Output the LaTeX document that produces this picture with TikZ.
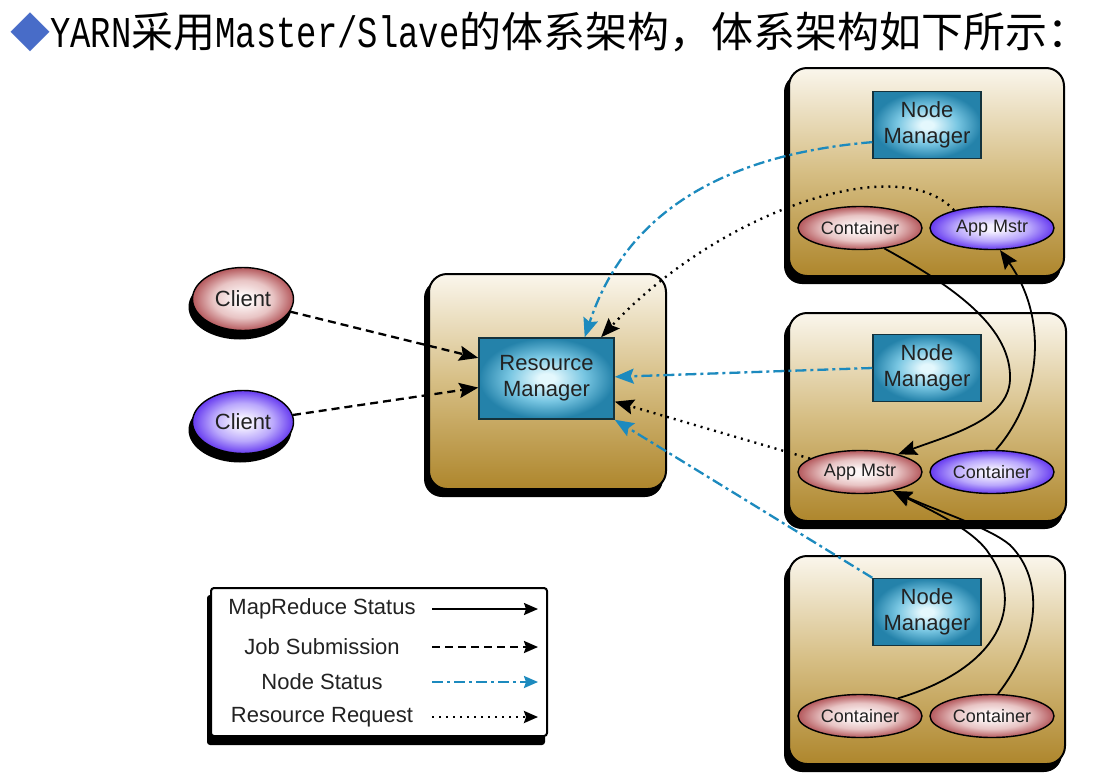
\documentclass[tikz,border=0pt]{standalone}
\usepackage{fontspec}
\setmainfont{Liberation Sans}
\newfontfamily\cjkfont{Noto Sans CJK SC}
\newfontfamily\titlelatin[FakeStretch=0.77]{Liberation Mono}
\usetikzlibrary{arrows.meta,shapes.geometric,calc}
\pgfdeclarelayer{bg}
\pgfsetlayers{bg,main}
\definecolor{boxtop}{RGB}{250,246,236}
\definecolor{boxmid}{RGB}{214,190,132}
\definecolor{boxbot}{RGB}{174,134,44}
\definecolor{nsblue}{RGB}{28,138,190}
\definecolor{diamondblue}{RGB}{72,108,200}
\definecolor{textc}{RGB}{34,34,34}
\definecolor{redin}{RGB}{253,246,246}
\definecolor{redmid}{RGB}{232,196,196}
\definecolor{redout}{RGB}{180,88,92}
\definecolor{bluein}{RGB}{244,240,255}
\definecolor{bluemid}{RGB}{186,168,252}
\definecolor{blueout}{RGB}{102,58,240}
\definecolor{nmin}{RGB}{228,248,253}
\definecolor{nmmid}{RGB}{120,198,226}
\definecolor{nmout}{RGB}{36,130,170}
\definecolor{nmline}{RGB}{20,50,60}
\pgfdeclareradialshading{redshade}{\pgfpoint{0bp}{0bp}}{color(0bp)=(redin); color(4bp)=(redin); color(15bp)=(redmid); color(25bp)=(redout); color(50bp)=(redout)}
\pgfdeclareradialshading{blueshade}{\pgfpoint{0bp}{0bp}}{color(0bp)=(bluein); color(4bp)=(bluein); color(15bp)=(bluemid); color(25bp)=(blueout); color(50bp)=(blueout)}
\pgfdeclareradialshading{nmshade}{\pgfpoint{0bp}{0bp}}{color(0bp)=(nmin); color(3bp)=(nmin); color(14bp)=(nmmid); color(25bp)=(nmout); color(50bp)=(nmout)}
\begin{document}
\begin{tikzpicture}[x=1pt,y=1pt,
  host/.style={draw=black, line width=2pt, rounded corners=18pt, top color=boxtop, bottom color=boxbot, middle color=boxmid, minimum width=275pt, minimum height=208pt, inner sep=0pt},
  mgr/.style={draw=nmline, line width=1.5pt, shading=nmshade, minimum width=108pt, minimum height=67pt, inner sep=0pt, align=center, font=\fontsize{22}{26}\selectfont, text=textc},
  redell/.style={ellipse, draw=black, line width=1.4pt, shading=redshade, minimum width=124pt, minimum height=43pt, inner sep=0pt, font=\fontsize{18}{20}\selectfont, text=textc},
  blueell/.style={redell, shading=blueshade},
  clientred/.style={redell, minimum width=101pt, minimum height=63pt, font=\fontsize{22}{24}\selectfont},
  clientblue/.style={clientred, shading=blueshade},
  legendbox/.style={draw=black, line width=2pt, fill=white, rounded corners=3pt, minimum width=336pt, minimum height=148pt, inner sep=0pt},
  legtext/.style={font=\fontsize{22}{24}\selectfont, text=textc, inner sep=0pt},
  tipbig/.style={-{Stealth[length=19pt,width=15pt,inset=3pt]}},
  tipsmall/.style={-{Stealth[length=14pt,width=12pt,inset=2pt]}},
  mrstat/.style={draw=black, line width=1.8pt},
  jobsub/.style={draw=black, line width=2.3pt, dash pattern=on 8pt off 5pt},
  nodestat/.style={draw=nsblue, line width=2.3pt, dash pattern=on 11pt off 4pt on 3pt off 4pt},
  resreq/.style={draw=black, line width=2.4pt, dash pattern=on 2pt off 5pt},
  shadowfill/.style={fill=black}
]
\begin{pgfonlayer}{bg}
\fill[white] (0,0) rectangle (1093,-782);
\end{pgfonlayer}
\useasboundingbox (0,0) rectangle (1093,-782);

% title
\node[anchor=west, inner sep=0pt, text=black] (title) at (10,-32)
  {\cjkfont\fontsize{42}{42}\selectfont{\fontsize{40}{40}\selectfont\textcolor{diamondblue}{◆}}{\titlelatin\fontsize{44}{44}\selectfont YARN}采用{\titlelatin\fontsize{44}{44}\selectfont Master/Slave}的体系架构，体系架构如下所示：};

% host boxes
\node[host] (h1) at (926.5,-172) {};
\node[host, minimum width=277pt] (h2) at (927.5,-417) {};
\node[host, minimum width=276pt] (h3) at (927,-660) {};
\node[host, minimum width=237pt, minimum height=215pt] (hrm) at (547.5,-381.5) {};

% managers
\node[mgr] (nm1) at (927,-125) {Node\\Manager};
\node[mgr] (nm2) at (927,-368) {Node\\Manager};
\node[mgr] (nm3) at (927,-612) {Node\\Manager};
\node[mgr, minimum width=135pt, minimum height=81pt] (rm) at (546.5,-378.5) {Resource\\Manager};

% ellipses
\node[redell] (c1) at (860,-228) {Container};
\node[blueell] (am1) at (992,-228) {App Mstr};
\node[redell] (am2) at (860,-472) {App Mstr};
\node[blueell] (c2) at (992,-472) {Container};
\node[redell] (c3a) at (860,-716) {Container};
\node[redell] (c3b) at (992,-716) {Container};
\node[clientred] (cr) at (243,-299) {Client};
\node[clientblue] (cb) at (243,-422) {Client};

% legend
\node[legendbox] (leg) at (379,-662) {};
\node[legtext] (t1) at (322,-609) {MapReduce Status};
\node[legtext] (t2) at (322,-647) {Job Submission};
\node[legtext] (t3) at (322,-682) {Node Status};
\node[legtext] (t4) at (322,-717) {Resource Request};
\coordinate (a1s) at (432,-609); \coordinate (a1e) at (538,-609);
\coordinate (a2s) at (432,-647); \coordinate (a2e) at (538,-647);
\coordinate (a3s) at (432,-682); \coordinate (a3e) at (538,-682);
\coordinate (a4s) at (432,-717); \coordinate (a4e) at (538,-717);
\draw[mrstat, tipsmall] (a1s) -- (a1e);
\draw[jobsub, tipsmall] (a2s) -- (a2e);
\draw[nodestat, tipsmall] (a3s) -- (a3e);
\draw[resreq, tipsmall] (a4s) -- (a4e);

% shadows
\begin{pgfonlayer}{bg}
\foreach \n in {h1,h2,h3,hrm}
  \fill[shadowfill, rounded corners=18pt] ([shift={(-4,-7)}]\n.north west) rectangle ([shift={(-4,-7)}]\n.south east);
\fill[shadowfill, rounded corners=3pt] ([shift={(-3,-8)}]leg.north west) rectangle ([shift={(-3,-8)}]leg.south east);
\fill[shadowfill] ([shift={(-3,-8)}]cr.center) ellipse [x radius=51.5, y radius=32.5];
\fill[shadowfill] ([shift={(-3,-8)}]cb.center) ellipse [x radius=51.5, y radius=32.5];
\end{pgfonlayer}

% job submission
\draw[jobsub, tipbig] (cr.-15) -- ($(rm.north west)!0.25!(rm.south west)$);
\draw[jobsub, tipbig] (cb.8) -- ($(rm.north west)!0.61!(rm.south west)$);

% node status
\draw[nodestat, tipbig] ($(nm1.north west)!0.75!(nm1.south west)$) .. controls (720,-155) and (625,-215) .. ($(rm.north west)!0.78!(rm.north east)$);
\draw[nodestat, tipbig] (nm2.west) -- ($(rm.north east)!0.48!(rm.south east)$);
\draw[nodestat, tipbig] (nm3.north west) -- (rm.south east);

% resource request
\draw[resreq, tipbig] (am1.155) .. controls (900,-150) and (720,-210) .. ($(rm.north west)!0.9!(rm.north east)$);
\draw[resreq, tipbig] (am2.165) -- ($(rm.north east)!0.78!(rm.south east)$);

% mapreduce status
\draw[mrstat, tipbig] (c1.-40) .. controls (960,-290) and (1012,-330) .. (1010,-380) .. controls (1008,-420) and (950,-435) .. (am2.25);
\draw[mrstat, tipbig] (c2.80) .. controls (1040,-400) and (1050,-320) .. (am1.-70);
\draw[mrstat, tipbig] (c3a.25) .. controls (1000,-668) and (1025,-605) .. (990,-555) .. controls (975,-530) and (930,-510) .. (am2.-30);
\draw[mrstat, tipbig] (c3b.75) .. controls (1040,-640) and (1045,-580) .. (1010,-545) .. controls (990,-528) and (940,-512) .. (am2.-30);
\end{tikzpicture}
\end{document}
